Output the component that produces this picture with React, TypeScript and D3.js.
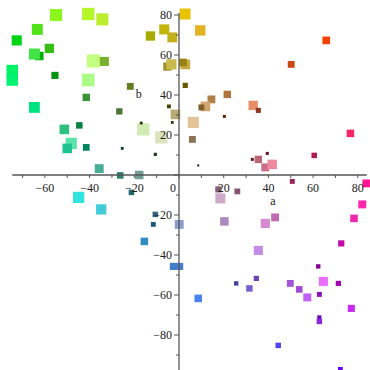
import React from "react";
import * as d3 from "d3";

// CIELAB colour samples: a (green–red), b (blue–yellow), L (lightness)
const aValues: number[] = [
  -55, -40.6, -34.3, -63.4, -72.6, -58, -62.5, -64.7, -38.3, -33.4,
  -74.6, -74.6, -55.5, -40.6, -21.8, -41.5, -64.7, -26.7, -44.6, -51.3,
  -16, -48.2, -50, -41.5, -25.4, -10.6, -7.9, -16.9, -35.7, -26.3,
  -17.8, -12.8, -6.6, -3, 2.7, -5.2, -3.4, 2.8, 1.8, 2.8,
  -4.5, -1.6, -3, 9.5, 65.9, 50.2, 21.6, 14.5, 11.8, 10,
  33.2, 35.5, 20.3, 6.4, 6, 76.7, 8.6, 32.8, 39.5, 35.5,
  38.6, 41.7, 60.5, 50.7, 83.8, -44.9, -34.8, -21.3, -10.6, -11.5,
  0.1, -15.5, -2.5, 0.3, 17.6, 26.1, 18.5, 82, 43, 78.3,
  20.3, 38.6, 72.6, 35.5, 62.3, 34.6, 25.6, 31.5, 49.8, 64.6,
  71.3, 53.8, 62.8, 57.4, 77.1, 8.6, 62.8, 62.8, 44.4, 72.2,
];
const bValues: number[] = [
  80, 80.5, 77.8, 72.8, 67.3, 63.3, 59.5, 60.5, 57, 56.8,
  52.2, 47.5, 49.8, 47.5, 44.3, 38.8, 33.8, 31.8, 24.8, 22.8,
  22.8, 15.8, 13.3, 13.8, 13.3, 10.3, 18.8, 26, 3.2, -0.2,
  0, 69.5, 72.8, 68.8, 80.5, 54.2, 55.3, 55.3, 56.3, 44.8,
  34.3, 30.3, 26.3, 72.3, 67.3, 55.3, 40.3, 37.8, 34.3, 33.8,
  34.8, 32.3, 29.3, 26.3, 17.8, 20.8, 4.8, 7.8, 10.8, 7.8,
  3.8, 5.3, 9.8, -3.2, -4.2, -11.2, -17.2, -8.7, -19.7, -24.7,
  -24.7, -33.2, -45.7, -45.7, -7.2, -8.2, -11.7, -14.7, -21.2, -21.7,
  -23.2, -24.2, -34.2, -37.7, -45.7, -51.7, -54.2, -56.7, -54.2, -53.2,
  -54.2, -57.2, -59.7, -61.2, -66.7, -61.7, -71.2, -73.2, -85.2, -97.2,
];
const lValues: number[] = [
  88, 90, 88, 80, 74, 68, 62, 80, 96, 66,
  84, 84, 52, 92, 50, 54, 79, 46, 47, 70,
  90, 82, 70, 49, 20, 24, 89, 20, 65, 48,
  62, 68, 73, 72, 80, 60, 75, 71, 55, 38,
  28, 70, 20, 76, 56, 50, 54, 57, 71, 43,
  68, 37, 22, 81, 50, 55, 15, 22, 22, 54,
  58, 69, 40, 36, 57, 82, 75, 40, 40, 35,
  65, 55, 52, 52, 45, 42, 73, 58, 57, 55,
  62, 67, 45, 66, 32, 38, 32, 47, 50, 66,
  38, 48, 36, 58, 52, 55, 30, 40, 40, 35,
];

const xTicks: number[] = d3.range(-70, 81, 10);
const yTicks: number[] = d3.range(-90, 81, 10);
const xLabelTicks: number[] = [-60, -40, -20, 0, 20, 40, 60, 80];
const yLabelTicks: number[] = [-80, -60, -40, -20, 20, 40, 60, 80];

const W = 370;
const H = 370;

export default function App() {
  const x = d3.scaleLinear().domain([-80, 80]).range([179 - 80 * 2.235, 179 + 80 * 2.235]);
  const y = d3.scaleLinear().domain([-80, 80]).range([335, 15]);
  const size = d3.scaleLinear().domain([0, 100]).range([0, 13.7]);
  const fmt = (v: number) => (v < 0 ? "\u2212" + Math.abs(v) : String(v));

  const points = aValues.map((a, i) => ({ a, b: bValues[i], L: lValues[i] }));
  const x0 = x(0);
  const y0 = y(0);
  const axisColor = "#555";

  return (
    <svg
      width={W}
      height={H}
      style={{ position: "absolute", left: 0, top: 0, background: "#fff" }}
      fontFamily="serif"
    >
      {points.map((p, i) => {
        const s = size(p.L);
        return (
          <rect
            key={i}
            x={x(p.a) - s / 2}
            y={y(p.b) - s / 2}
            width={s}
            height={s}
            fill={d3.lab(p.L, p.a, p.b).formatHex()}
          />
        );
      })}
      {/* x axis */}
      <line x1={x(-74.6)} x2={x(84)} y1={y0} y2={y0} stroke={axisColor} strokeWidth={1.3} />
      {xTicks.map((t) => (
        <line key={"xt" + t} x1={x(t)} x2={x(t)} y1={y0} y2={y0 + 3} stroke={axisColor} />
      ))}
      {xLabelTicks.map((t) => (
        <text
          key={"xl" + t}
          x={t === 0 ? x0 - 3 : x(t)}
          y={y0 + 16.5}
          textAnchor={t === 0 ? "end" : "middle"}
          fontSize={12}
          fill="#222"
        >
          {fmt(t)}
        </text>
      ))}
      {/* y axis */}
      <line x1={x0} x2={x0} y1={y(81)} y2={H} stroke={axisColor} strokeWidth={1.3} />
      {yTicks.map((t) => (
        <line
          key={"yt" + t}
          x1={x0}
          x2={x0 - (t % 20 === 0 ? 5 : 3)}
          y1={y(t)}
          y2={y(t)}
          stroke={axisColor}
        />
      ))}
      {yLabelTicks.map((t) => (
        <text
          key={"yl" + t}
          x={x0 - 7}
          y={y(t)}
          dy="0.33em"
          textAnchor="end"
          fontSize={12}
          fill="#222"
        >
          {fmt(t)}
        </text>
      ))}
      <text x={x(42)} y={y0 + 30} textAnchor="middle" fontSize={12} fill="#222">
        a
      </text>
      <text x={x(-18)} y={y(40.5)} dy="0.33em" textAnchor="middle" fontSize={12} fill="#222">
        b
      </text>
    </svg>
  );
}
